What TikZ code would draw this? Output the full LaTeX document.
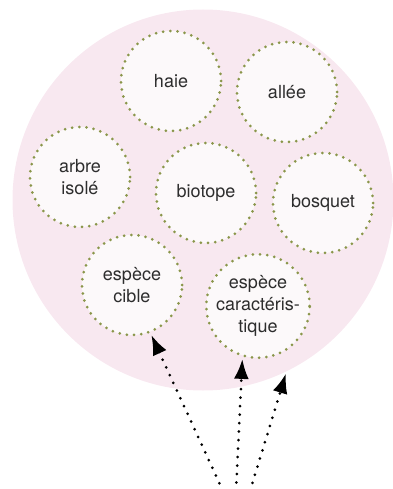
\documentclass[tikz,border=0pt]{standalone}
\usepackage{fontspec}
\setmainfont{TeX Gyre Heros}
\usetikzlibrary{arrows.meta}
\definecolor{rose}{RGB}{248,232,240}
\definecolor{fondbulle}{RGB}{252,249,250}
\definecolor{olive}{RGB}{138,150,74}
\definecolor{gristexte}{RGB}{45,45,45}

\begin{document}
\begin{tikzpicture}[x=1pt, y=-1pt, font=\fontsize{18}{22}\selectfont, align=center]
	\tikzstyle{zone}=[circle, fill=rose, minimum size=381pt, inner sep=0pt]
	\tikzstyle{bulle}=[circle, fill=fondbulle, draw=olive, line width=3pt, dash pattern=on 0pt off 7.2pt, line cap=round, minimum size=100pt, inner sep=0pt, text=gristexte]
	\tikzstyle{fleche}=[line width=3pt, dash pattern=on 0pt off 8.5pt, line cap=round, shorten >=2pt, -{Latex[length=20pt,width=15pt]}]
	
	\useasboundingbox (0,0) rectangle (392,489);
	
	\node[zone](milieu) at (203,200){};
	
	\node[bulle](haie) at (171,81){haie};
	\node[bulle](allee) at (287,92){allée};
	\node[bulle](arbre) at (80,177){arbre\\isolé};
	\node[bulle](biotope) at (206,193){biotope};
	\node[bulle](bosquet) at (323,203){bosquet};
	\node[bulle](cible) at (132,285){espèce\\cible};
	\node[bulle](caract) at (258,306){espèce\\caractéris-\\tique};
	
	\coordinate(depart1) at (223,491);
	\coordinate(depart2) at (236,491);
	\coordinate(depart3) at (250,491);
	
	\draw[fleche] (depart1) -- (cible.-69);
	\draw[fleche] (depart2) -- (caract.-107);
	\draw[fleche] (depart3) -- (milieu.-64);
\end{tikzpicture}
\end{document}
